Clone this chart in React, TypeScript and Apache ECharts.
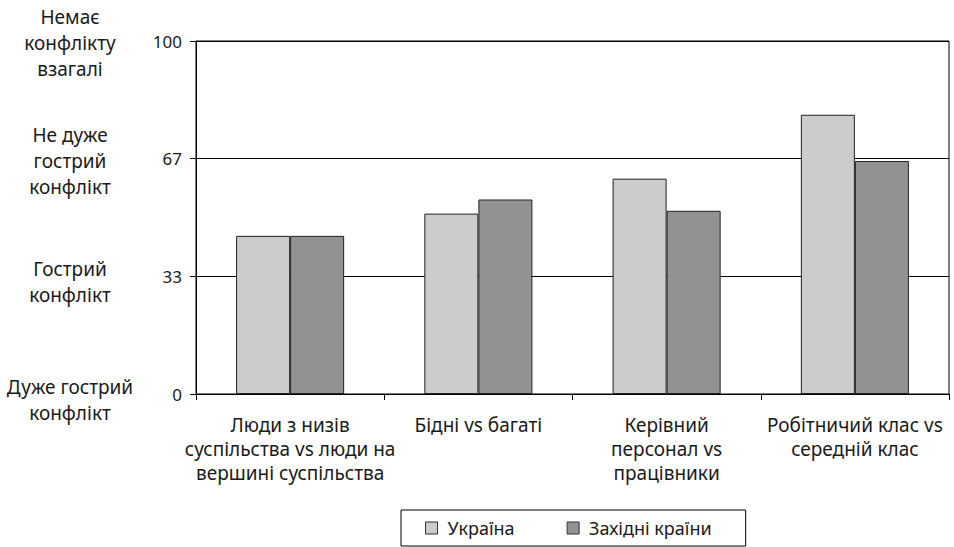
import React, { useEffect, useRef } from "react";
import * as echarts from "echarts";

const categories = [
  "Люди з низів\nсуспільства vs люди на\nвершині суспільства",
  "Бідні vs багаті",
  "Керівний\nперсонал vs\nпрацівники",
  "Робітничий клас vs\nсередній клас",
];
const seriesNames = ["Україна", "Західні країни"];
const ukraine = [44.8, 51.1, 61.0, 79.1];
const western = [44.8, 55.1, 51.9, 66.0];
const levelLabels: Record<string, string> = {
  "0": "{s2| }\nДуже гострий\nконфлікт",
  "33": "{s2| }\nГострий\nконфлікт",
  "67": "{s3| }\nНе дуже\nгострий\nконфлікт",
  "100": "{s3| }\nНемає\nконфлікту\nвзагалі",
};

const FONT = "'Noto Sans', sans-serif";

export default function App() {
  const ref = useRef<HTMLDivElement>(null);
  useEffect(() => {
    if (!ref.current) return;
    const chart = echarts.init(ref.current, undefined, { renderer: "svg" });
    const yBase = {
      type: "value" as const,
      min: 0,
      max: 100,
      interval: 100 / 3,
      gridIndex: 0,
    };
    chart.setOption({
      animation: false,
      textStyle: { fontFamily: FONT, color: "#1a1a1a" },
      grid: {
        left: 196,
        right: 5,
        top: 41,
        bottom: 153,
        show: true,
        borderColor: "#000",
        borderWidth: 1,
        backgroundColor: "transparent",
      },
      legend: {
        data: seriesNames,
        left: 401,
        top: 510,
        padding: [9, 34, 9, 24],
        itemWidth: 12,
        itemHeight: 12,
        itemGap: 52,
        borderColor: "#000",
        borderWidth: 1,
        icon: "rect",
        itemStyle: { borderColor: "#333", borderWidth: 1 },
        textStyle: { fontFamily: FONT, fontSize: 18, color: "#1a1a1a", padding: [0, 0, 0, 5] },
      },
      xAxis: {
        type: "category",
        data: categories,
        axisLine: { lineStyle: { color: "#000", width: 1 } },
        axisTick: { show: true, length: 6, lineStyle: { color: "#000" } },
        axisLabel: {
          interval: 0,
          fontSize: 19,
          lineHeight: 24,
          margin: 19,
          color: "#1a1a1a",
          fontFamily: FONT,
        },
      },
      yAxis: [
        {
          ...yBase,
          axisLine: { show: true, lineStyle: { color: "#000", width: 1 } },
          axisTick: { show: true, length: 6, lineStyle: { color: "#000" } },
          splitLine: { show: true, lineStyle: { color: "#000", width: 1 } },
          axisLabel: {
            fontSize: 17,
            margin: 14,
            color: "#1a1a1a",
            fontFamily: FONT,
            formatter: (v: number) => String(Math.round(v)),
          },
        },
        {
          ...yBase,
          position: "left",
          axisLine: { show: false },
          axisTick: { show: false },
          splitLine: { show: false },
          axisLabel: {
            fontSize: 19,
            lineHeight: 26,
            margin: 126,
            align: "center",
            color: "#1a1a1a",
            fontFamily: FONT,
            formatter: (v: number) => levelLabels[String(Math.round(v))] || "",
            rich: {
              s2: { fontSize: 1, lineHeight: 12, height: 12 },
              s3: { fontSize: 1, lineHeight: 4, height: 4 },
            },
          },
        },
      ],
      series: [
        {
          name: seriesNames[0],
          type: "bar",
          data: ukraine,
          barWidth: "28.7%",
          barGap: "0%",
          itemStyle: { color: "#cccccc", borderColor: "#222", borderWidth: 1 },
        },
        {
          name: seriesNames[1],
          type: "bar",
          data: western,
          barWidth: "28.7%",
          barGap: "0%",
          itemStyle: { color: "#929292", borderColor: "#222", borderWidth: 1 },
        },
      ],
    });
    return () => chart.dispose();
  }, []);
  return (
    <div
      ref={ref}
      style={{ position: "fixed", left: 0, top: 0, width: 954, height: 547, background: "#fff" }}
    />
  );
}
